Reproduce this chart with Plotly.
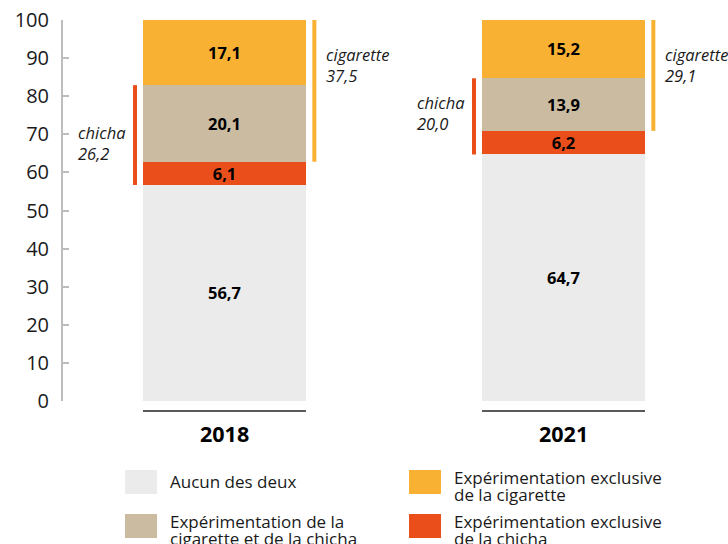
import plotly.graph_objects as go

# ---------------- data ----------------
years = ["2018", "2021"]
aucun = [56.7, 64.7]            # Aucun des deux
chicha_excl = [6.1, 6.2]        # Expérimentation exclusive de la chicha
both = [20.1, 13.9]             # Expérimentation de la cigarette et de la chicha
cig_excl = [17.1, 15.2]         # Expérimentation exclusive de la cigarette
chicha_total = [26.2, 20.0]
cig_total = [37.5, 29.1]

names = {
    "aucun": "Aucun des deux",
    "both": "Expérimentation de la\ncigarette et de la chicha",
    "cig": "Expérimentation exclusive\nde la cigarette",
    "chicha": "Expérimentation exclusive\nde la chicha",
}
y_ticks = list(range(0, 101, 10))

# ---------------- style ----------------
C_GREY = "#EBEBEB"
C_TAN = "#CBBBA1"
C_RED = "#E94E1B"
C_ORANGE = "#F8B133"
FONT = "Open Sans"

W, H = 728, 544
ML, MR, MT, MB = 63, 15, 20, 143
PW = W - ML - MR
PH = H - MT - MB
XMIN, XMAX = -0.4764, 1.441
BAR_W = 0.481


def fmt(v):
    return f"{v:.1f}".replace(".", ",")


def px_x(xd):  # data x -> paper x
    return (xd - XMIN) / (XMAX - XMIN)


def py_paper(py):  # pixel y -> paper y
    return (H - MB - py) / PH


xs = list(range(len(years)))

fig = go.Figure()
series = [
    (aucun, C_GREY, "aucun"),
    (chicha_excl, C_RED, "chicha"),
    (both, C_TAN, "both"),
    (cig_excl, C_ORANGE, "cig"),
]
for vals, col, key in series:
    fig.add_trace(go.Bar(
        x=xs, y=vals, width=BAR_W, marker=dict(color=col, line=dict(width=0)),
        text=[f"<b>{fmt(v)}</b>" for v in vals],
        textposition="inside", insidetextanchor="middle", textangle=0,
        constraintext="none",
        textfont=dict(family=FONT, size=16.5, color="black"),
        hoverinfo="skip", showlegend=False, name=names[key].replace("\n", " "),
    ))

shapes = []
annotations = []

# brackets
chicha_lbl_y = [67.7, 75.6]
cig_lbl_y = [88.2, 88.2]
for i, x in enumerate(xs):
    c0 = aucun[i]
    c1 = aucun[i] + chicha_total[i]
    shapes.append(dict(type="line", xref="x", yref="y", x0=x - 0.264, x1=x - 0.264,
                       y0=c0, y1=c1, line=dict(color=C_RED, width=4)))
    g0 = aucun[i] + chicha_excl[i]
    g1 = min(100, g0 + cig_total[i])
    shapes.append(dict(type="line", xref="x", yref="y", x0=x + 0.265, x1=x + 0.265,
                       y0=g0, y1=g1, line=dict(color=C_ORANGE, width=4)))
    annotations.append(dict(xref="x", yref="y", x=x - 0.288, y=chicha_lbl_y[i],
                            xanchor="right", yanchor="middle", align="left", showarrow=False,
                            text=f"<i>chicha<br>{fmt(chicha_total[i])}</i>",
                            font=dict(family=FONT, size=16.5, color="#1a1a1a")))
    annotations.append(dict(xref="x", yref="y", x=x + 0.293, y=cig_lbl_y[i],
                            xanchor="left", yanchor="middle", align="left", showarrow=False,
                            text=f"<i>cigarette<br>{fmt(cig_total[i])}</i>",
                            font=dict(family=FONT, size=16.5, color="#1a1a1a")))
    # underline + year label
    shapes.append(dict(type="line", xref="paper", yref="paper",
                       x0=px_x(x - BAR_W / 2), x1=px_x(x + BAR_W / 2),
                       y0=py_paper(411), y1=py_paper(411),
                       line=dict(color="#222222", width=1.5)))
    annotations.append(dict(xref="paper", yref="paper", x=px_x(x), y=py_paper(433),
                            xanchor="center", yanchor="middle", showarrow=False,
                            text=f"<b>{years[i]}</b>",
                            font=dict(family=FONT, size=21.5, color="black")))

# custom legend
legend_items = [
    ("aucun", C_GREY, 125, 470),
    ("both", C_TAN, 125, 514),
    ("cig", C_ORANGE, 409, 470),
    ("chicha", C_RED, 409, 514),
]
for key, col, lx, ly in legend_items:
    shapes.append(dict(type="rect", xref="paper", yref="paper",
                       x0=(lx - ML) / PW, x1=(lx + 32 - ML) / PW,
                       y0=py_paper(ly + 24), y1=py_paper(ly),
                       fillcolor=col, line=dict(width=0)))
    lines = names[key].split("\n")
    if len(lines) == 1:
        centers = [ly + 11]
    else:
        centers = [ly + 7, ly + 24]
    for ln, cy in zip(lines, centers):
        annotations.append(dict(xref="paper", yref="paper", x=(lx + 43 - ML) / PW,
                                y=py_paper(cy), xanchor="left", yanchor="middle",
                                showarrow=False, text=ln,
                                font=dict(family=FONT, size=17, color="#1a1a1a")))

fig.update_layout(
    width=W, height=H,
    margin=dict(l=ML, r=MR, t=MT, b=MB, pad=0, autoexpand=False),
    barmode="stack",
    paper_bgcolor="white", plot_bgcolor="white",
    showlegend=False,
    shapes=shapes, annotations=annotations,
    xaxis=dict(range=[XMIN, XMAX], showgrid=False, zeroline=False, showline=False,
               showticklabels=False, ticks="", fixedrange=True, automargin=False),
    yaxis=dict(range=[0, 100], tickvals=y_ticks, ticktext=[str(t) for t in y_ticks],
               showgrid=False, zeroline=False, showline=True, linecolor="#BDBDBD",
               linewidth=2, ticks="inside", ticklen=6, tickwidth=2, tickcolor="#BDBDBD",
               ticklabelstandoff=8, automargin=False,
               tickfont=dict(family=FONT, size=20, color="#1a1a1a"), fixedrange=True),
    font=dict(family=FONT),
)

fig.write_html(
    "out.html",
    config={"displayModeBar": False},
    post_script="document.body.style.margin='0';document.body.style.padding='0';"
                "document.body.style.overflow='hidden';",
)
